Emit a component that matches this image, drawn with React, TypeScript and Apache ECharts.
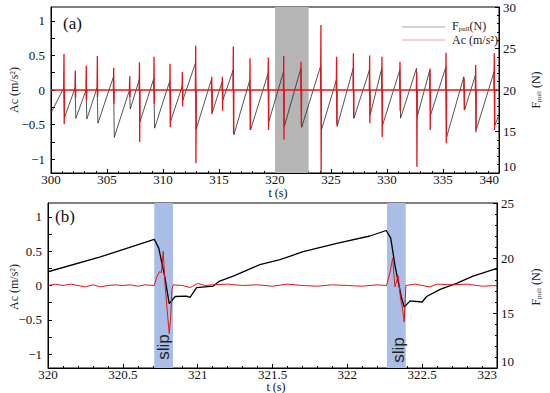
import React, { useEffect, useRef } from "react";
import * as echarts from "echarts";

// ---------- Panel (a): slip events 300–340 s ----------
const slipTimesA = [301.16, 302.17, 303.15, 304.14, 305.6, 307.03, 307.9, 309.2, 310.63, 311.73, 312.92, 314.35, 315.3, 316.28, 317.77, 319.4, 320.78, 322.33, 324.1, 325.5, 327.0, 328.45, 329.55, 331.16, 332.65, 333.84, 335.27, 336.88, 337.92, 339.58];
const fPeakA = [20.25, 20.25, 20.0, 20.3, 21.6, 20.0, 21.25, 21.4, 21.1, 20.4, 23.25, 21.3, 21.0, 22.4, 21.2, 22.0, 22.2, 22.6, 22.9, 21.2, 22.6, 22.4, 22.6, 22.4, 22.6, 22.4, 22.75, 21.6, 21.8, 22.2];
const fTroughA = [16.7, 16.6, 16.5, 16.0, 14.3, 17.7, 16.2, 15.4, 16.25, 18.8, 15.3, 17.3, 18.8, 14.6, 15.2, 16.2, 15.6, 15.5, 15.2, 15.6, 16.6, 17.0, 15.75, 16.6, 16.8, 17.0, 14.3, 17.6, 15.2, 15.75];
const acUpA = [0.52, 0.28, 0.35, 0.49, 0.32, 0.2, 0.4, 0.48, 0.38, 0.26, 0.64, 0.19, 0.19, 0.63, 0.46, 0.47, 0.49, 0.41, 0.94, 0.48, 0.53, 0.5, 0.48, 0.41, 0.26, 0.31, 0.54, 0.17, 0.36, 0.53];
const acDownA = [-0.49, -0.12, -0.15, -0.1, -0.2, -0.1, -0.75, -0.2, -0.54, -0.24, -1.06, -0.35, -0.3, -0.63, -0.58, -0.58, -0.72, -0.51, -1.2, -0.5, -0.41, -0.48, -0.68, -0.3, -1.11, -0.58, -0.77, -0.29, -0.61, -0.58];
const fStartA = 17.25;
const fEndA = 17.0;
const zoomWindow = [320, 323];

// ---------- Panel (b): 320–323 s ----------
const bFT = [320, 320.35, 320.71, 320.74, 320.78, 320.81, 320.85, 320.926, 320.949, 320.993, 321.104, 321.147, 321.238, 321.416, 321.55, 321.705, 321.93, 322.15, 322.26, 322.29, 322.32, 322.36, 322.38, 322.42, 322.5, 322.53, 322.62, 322.73, 322.84, 323.0];
const bF = [18.75, 20.1, 21.7, 20.9, 18.3, 15.85, 16.5, 16.54, 16.42, 17.3, 17.45, 17.9, 18.36, 19.4, 19.85, 20.57, 21.33, 22.0, 22.5, 21.8, 19.2, 16.5, 15.55, 16.1, 16.0, 16.5, 17.15, 17.7, 18.36, 19.06];
const bAcT = [320, 320.05, 320.1, 320.15, 320.2, 320.25, 320.3, 320.35, 320.4, 320.45, 320.5, 320.55, 320.6, 320.65, 320.71, 320.726, 320.744, 320.758, 320.77, 320.781, 320.797, 320.81, 320.82, 320.828, 320.837, 320.9, 320.95, 321.0, 321.05, 321.1, 321.2, 321.3, 321.4, 321.5, 321.6, 321.7, 321.8, 321.9, 322.0, 322.1, 322.2, 322.262, 322.285, 322.303, 322.318, 322.34, 322.356, 322.369, 322.38, 322.391, 322.45, 322.5, 322.55, 322.6, 322.7, 322.8, 322.9, 323.0];
const bAc = [0.0, 0.02, 0.0, 0.02, 0.0, -0.02, 0.01, -0.02, 0.0, 0.01, 0.0, 0.01, -0.01, 0.01, 0.0, 0.12, 0.2, 0.19, 0.5, 0.05, -0.38, -0.7, -0.45, -0.06, 0.01, 0.0, -0.03, 0.03, 0.0, 0.01, 0.02, 0.0, 0.01, -0.01, 0.02, 0.0, -0.01, 0.01, 0.0, -0.01, 0.01, 0.0, 0.19, 0.4, -0.02, 0.14, -0.2, -0.34, -0.53, 0.0, 0.02, 0.0, -0.02, 0.02, 0.01, 0.02, -0.01, 0.0];
const slipBands = [[320.71, 320.835], [322.265, 322.39]];

// ---------- Tick labels ----------
const acLabels = [-1, -0.5, 0, 0.5, 1];
const acTicks = [-1, -0.75, -0.5, -0.25, 0, 0.25, 0.5, 0.75, 1];

const SERIF = "'Times New Roman', 'Liberation Serif', 'DejaVu Serif', serif";

function buildBlackA() {
  const pts: number[][] = [[300, fStartA]];
  slipTimesA.forEach((t, i) => {
    pts.push([t - 0.02, fPeakA[i]]);
    pts.push([t + 0.05, fTroughA[i]]);
  });
  pts.push([340, fEndA]);
  return pts;
}
function buildRedA() {
  const pts: number[][] = [[300, 0]];
  slipTimesA.forEach((t, i) => {
    pts.push([t - 0.03, 0]);
    pts.push([t, acUpA[i]]);
    pts.push([t + 0.02, acDownA[i]]);
    pts.push([t + 0.05, 0]);
  });
  pts.push([340, 0]);
  return pts;
}

const fmtAc = (v: number) => (v < 0 ? "\u2212" + Math.abs(v) : String(v));

const labelStyle = { fontFamily: SERIF, fontSize: 13, color: "#111" };

function leftAxis(gridIndex: number) {
  return {
    type: "value",
    gridIndex,
    min: -1.2,
    max: 1.2,
    position: "left",
    axisLine: { show: true, onZero: false, lineStyle: { color: "#000", width: 1 } },
    axisTick: { show: true, inside: true, length: 4, customValues: acTicks, lineStyle: { color: "#000" } },
    axisLabel: { ...labelStyle, customValues: acLabels, formatter: fmtAc, margin: 6 },
    splitLine: { show: false },
  };
}
function rightAxis(gridIndex: number, max: number) {
  return {
    type: "value",
    gridIndex,
    min: 10,
    max,
    interval: 5,
    position: "right",
    axisLine: { show: true, onZero: false, lineStyle: { color: "#000", width: 1 } },
    axisTick: { show: true, inside: true, length: 4, lineStyle: { color: "#000" } },
    minorTick: { show: true, splitNumber: 5, length: 2, lineStyle: { color: "#000" } },
    axisLabel: { ...labelStyle, margin: 4, verticalAlignMinLabel: "bottom" },
    splitLine: { show: false },
  };
}
function xAxis(gridIndex: number, min: number, max: number, interval: number, split: number) {
  return {
    type: "value",
    gridIndex,
    min,
    max,
    interval,
    axisLine: { show: true, onZero: false, lineStyle: { color: "#000", width: 1 } },
    axisTick: { show: true, inside: true, length: 4, lineStyle: { color: "#000" } },
    minorTick: { show: true, splitNumber: split, length: 2, lineStyle: { color: "#000" } },
    axisLabel: { ...labelStyle, lineHeight: 12, margin: 0, alignMaxLabel: "right" },
    splitLine: { show: false },
  };
}

const fRich = {
  a: { fontFamily: SERIF, fontSize: 12, fill: "#222", lineHeight: 12 },
  s: { fontFamily: SERIF, fontSize: 7, fill: "#222", lineHeight: 12, padding: [5, 0, 0, 0] },
};

function rotText(x: number, y: number, text: string, rich?: any, fontSize = 12, family = SERIF) {
  return {
    type: "text",
    x,
    y,
    z: 100,
    rotation: Math.PI / 2,
    style: { text, rich, fontFamily: family, fontSize, fill: "#222", align: "center", verticalAlign: "middle" },
    silent: true,
  };
}

export default function App() {
  const ref = useRef<HTMLDivElement>(null);
  useEffect(() => {
    if (!ref.current) return;
    const chart = echarts.init(ref.current, undefined, { renderer: "svg" });
    const option: any = {
      animation: false,
      backgroundColor: "#fff",
      textStyle: { fontFamily: SERIF },
      grid: [
        { left: 51, right: 51, top: 7, height: 166, show: true, borderColor: "#000", borderWidth: 1, backgroundColor: "transparent" },
        { left: 48, right: 53, top: 203, height: 165, show: true, borderColor: "#000", borderWidth: 1, backgroundColor: "transparent" },
      ],
      xAxis: [xAxis(0, 300, 340, 5, 5), xAxis(1, 320, 323, 0.5, 5)],
      yAxis: [leftAxis(0), rightAxis(0, 30), leftAxis(1), rightAxis(1, 25)],
      series: [
        {
          name: "F_pull(N)",
          type: "line",
          xAxisIndex: 0,
          yAxisIndex: 1,
          data: buildBlackA(),
          symbol: "none",
          lineStyle: { color: "#2a2a2a", width: 0.8 },
          markArea: {
            silent: true,
            itemStyle: { color: "#b5b5b5" },
            data: [[{ xAxis: zoomWindow[0] }, { xAxis: zoomWindow[1] }]],
          },
          z: 2,
        },
        {
          name: "Ac (m/s²)",
          type: "line",
          xAxisIndex: 0,
          yAxisIndex: 0,
          data: buildRedA(),
          symbol: "none",
          lineStyle: { color: "#e3141b", width: 1.3 },
          z: 3,
        },
        {
          type: "line",
          xAxisIndex: 1,
          yAxisIndex: 3,
          data: bFT.map((t, i) => [t, bF[i]]),
          symbol: "none",
          lineStyle: { color: "#000", width: 1.3 },
          markArea: {
            silent: true,
            itemStyle: { color: "#a9bde6" },
            data: slipBands.map((b) => [{ xAxis: b[0] }, { xAxis: b[1] }]),
          },
          z: 2,
        },
        {
          type: "line",
          xAxisIndex: 1,
          yAxisIndex: 2,
          data: bAcT.map((t, i) => [t, bAc[i]]),
          symbol: "none",
          lineStyle: { color: "#e01818", width: 1 },
          z: 3,
        },
      ],
      graphic: [
        { type: "text", x: 63, y: 15, z: 100, style: { text: "(a)", fontFamily: SERIF, fontSize: 17, fill: "#111" } },
        { type: "text", x: 55, y: 208, z: 100, style: { text: "(b)", fontFamily: SERIF, fontSize: 17, fill: "#111" } },
        { type: "text", x: 278, y: 193, z: 100, style: { text: "t (s)", fontFamily: SERIF, fontSize: 12, fill: "#111", align: "center", verticalAlign: "middle" } },
        { type: "text", x: 276, y: 387, z: 100, style: { text: "t (s)", fontFamily: SERIF, fontSize: 12, fill: "#111", align: "center", verticalAlign: "middle" } },
        rotText(14, 90, "Ac (m/s²)"),
        rotText(14, 287, "Ac (m/s²)"),
        rotText(536, 90, "{a|F}{s|pull}{a| (N)}", fRich),
        rotText(536, 287, "{a|F}{s|pull}{a| (N)}", fRich),
        rotText(163, 347, "slip", undefined, 17, "'Liberation Sans', 'DejaVu Sans', sans-serif"),
        rotText(398, 350, "slip", undefined, 17, "'Liberation Sans', 'DejaVu Sans', sans-serif"),
        { type: "line", z: 100, shape: { x1: 402, y1: 27, x2: 445, y2: 27 }, style: { stroke: "#a8a8a8", lineWidth: 1.2 } },
        { type: "line", z: 100, shape: { x1: 402, y1: 40, x2: 445, y2: 40 }, style: { stroke: "#f2a0a6", lineWidth: 1.2 } },
        { type: "text", x: 452, y: 26, z: 100, style: { text: "{a|F}{s|pull}{a|(N)}", rich: fRich, verticalAlign: "middle" } },
        { type: "text", x: 452, y: 40, z: 100, style: { text: "Ac (m/s²)", fontFamily: SERIF, fontSize: 12, fill: "#222", verticalAlign: "middle" } },
      ],
    };
    chart.setOption(option);
    return () => chart.dispose();
  }, []);
  return <div ref={ref} style={{ position: "fixed", left: 0, top: 0, width: 550, height: 393 }} />;
}
